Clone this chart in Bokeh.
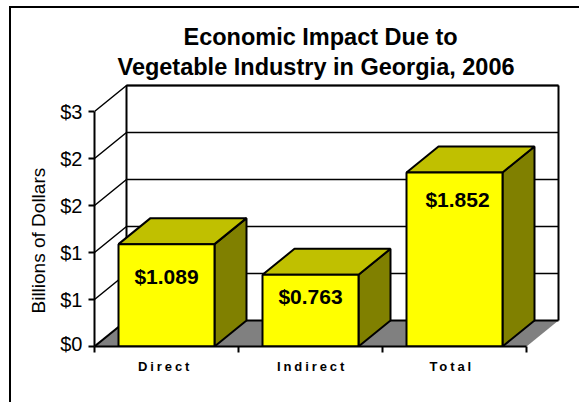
from bokeh.plotting import figure
from bokeh.layouts import column
from bokeh.models import FixedTicker, Range1d, ColumnDataSource, Title
from bokeh.core.properties import value
from bokeh.embed import file_html
from bokeh.resources import INLINE

categories = ["Direct", "Indirect", "Total"]
values = [1.089, 0.763, 1.852]
value_labels = ["$1.089", "$0.763", "$1.852"]
y_ticks = [0, 0.5, 1, 1.5, 2, 2.5]
y_tick_labels = ["$0", "$1", "$1", "$2", "$2", "$3"]
title_lines = ["Economic Impact Due to", "Vegetable Industry in Georgia, 2006"]
y_label = "Billions of Dollars"

# 3D look, in axis units
DX, DY = 32 / 144, 26 / 94
BAR_W = 2 / 3
FONT = "Liberation Sans"
X_END = (560 - 94) / 144
Y_END = 266 / 94
LINE = 2
TRACK_SHIFT = 10 / 144

p = figure(width=568, height=346, output_backend="svg", toolbar_location=None,
           x_range=Range1d(0, X_END), y_range=Range1d(0, Y_END),
           min_border_left=83, min_border_right=19, min_border_top=72, min_border_bottom=8)
p.outline_line_color = None
p.grid.visible = False
p.background_fill_color = "white"
p.border_fill_color = "white"

n = len(categories)
top = y_ticks[-1]
# floor
p.patch([0, n, n + DX, DX], [0, 0, DY, DY], fill_color="#808080", line_color=None)
# back and side wall lines
for t in y_ticks[1:]:
    p.line([0, DX, n + DX], [t, t + DY, t + DY], line_color="black", line_width=1.5)
p.line([DX, n + DX], [DY, DY], line_color="black", line_width=LINE)
p.line([DX, DX], [DY, top + DY], line_color="black", line_width=LINE)
p.line([n + DX, n + DX], [DY, top + DY], line_color="black", line_width=LINE)
p.line([DX, n + DX], [top + DY, top + DY], line_color="black", line_width=LINE)
p.line([0, DX], [0, DY], line_color="black", line_width=LINE)

# bars
for i, v in enumerate(values):
    x0 = i + (1 - BAR_W) / 2
    x1 = x0 + BAR_W
    p.patch([x1, x1 + DX, x1 + DX, x1], [0, DY, v + DY, v], fill_color="#808000",
            line_color="black", line_width=LINE)
    p.patch([x0, x1, x1 + DX, x0 + DX], [v, v, v + DY, v + DY], fill_color="#C0C000",
            line_color="black", line_width=LINE)
    p.patch([x0, x1, x1, x0], [0, 0, v, v], fill_color="#FFFF00",
            line_color="black", line_width=LINE)

src = ColumnDataSource(dict(x=[i + 0.5 for i in range(n)], y=values, t=value_labels,
                            xo=[0, 0, 3], yo=[32, 22, 27]))
p.text("x", "y", text="t", x_offset="xo", y_offset="yo", source=src, text_align="center",
       text_baseline="middle", text_font=value(FONT), text_font_style="bold",
       text_font_size="21px", text_color="black")

# axes
ya = p.yaxis[0]
ya.ticker = FixedTicker(ticks=y_ticks)
ya.major_label_overrides = dict(zip(y_ticks, y_tick_labels))
ya.bounds = (0, top)
ya.major_tick_in = 0
ya.major_tick_out = 6
ya.minor_tick_line_color = None
ya.major_tick_line_width = LINE
ya.axis_line_width = LINE
ya.major_label_standoff = 6
ya.major_label_text_font = FONT
ya.major_label_text_font_size = "20px"
ya.major_label_text_color = "black"

xa = p.xaxis[0]
xa.ticker = FixedTicker(ticks=list(range(n + 1)))
xa.major_label_text_font_size = "0px"
xa.major_label_text_color = None
xa.bounds = (0, n)
xa.major_tick_in = 0
xa.major_tick_out = 6
xa.minor_tick_line_color = None
xa.major_tick_line_width = LINE
xa.axis_line_width = LINE

for line, so, off in zip(reversed(title_lines), (1, 4), (23, 89)):
    p.add_layout(Title(text=line, align="left", offset=off, text_font=FONT,
                       text_font_size="23.5px", text_font_style="bold", text_color="black",
                       standoff=so), "above")

p.add_layout(Title(text=y_label, align="left", offset=33, text_font=FONT,
                   text_font_size="19px", text_font_style="normal", text_color="black",
                   standoff=17), "left")

# category labels live in their own strip so only they get the wide tracking
q = figure(width=568, height=48, output_backend="svg", toolbar_location=None,
           x_range=Range1d(TRACK_SHIFT, X_END + TRACK_SHIFT), y_range=Range1d(0, 1),
           min_border_left=83, min_border_right=19, min_border_top=0, min_border_bottom=45)
q.outline_line_color = None
q.grid.visible = False
q.yaxis.visible = False
q.styles = {"letter-spacing": "2.9px"}
qa = q.xaxis[0]
qa.ticker = FixedTicker(ticks=[i + 0.5 for i in range(n)])
qa.major_label_overrides = {i + 0.5: c for i, c in enumerate(categories)}
qa.axis_line_color = None
qa.major_tick_line_color = None
qa.minor_tick_line_color = None
qa.major_label_standoff = -5
qa.major_label_text_font = FONT
qa.major_label_text_font_style = "bold"
qa.major_label_text_font_size = "13px"
qa.major_label_text_color = "black"

root = column(p, q, spacing=0)
root.styles = {"border-top": "2px solid black", "border-left": "2px solid black",
               "margin-left": "9px", "margin-top": "6px", "box-sizing": "content-box"}

open("out.html", "w").write(file_html(root, INLINE))
